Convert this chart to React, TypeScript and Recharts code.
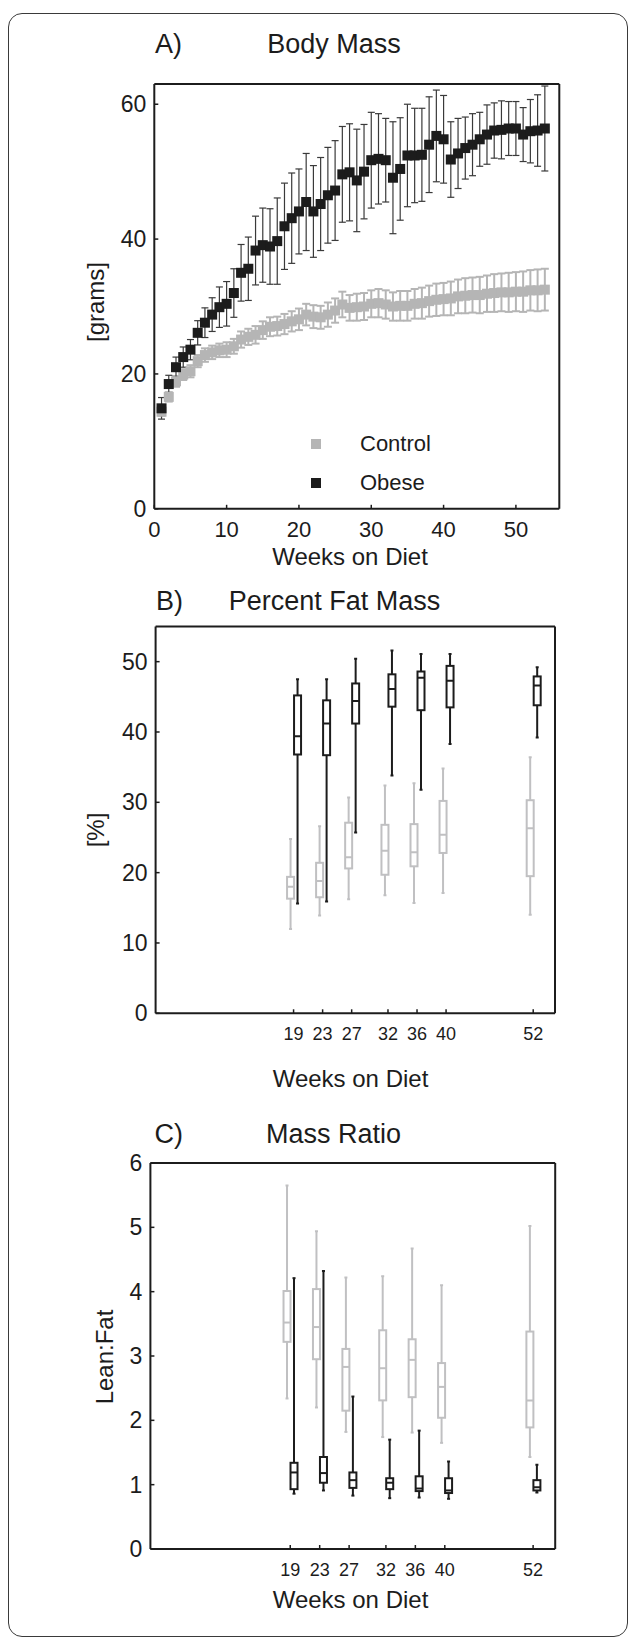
import React from "react";
import { ComposedChart, Scatter, ErrorBar, Bar, XAxis, YAxis, Legend } from "recharts";

const FONT = "'Liberation Sans', Arial, Helvetica, sans-serif";
const INK = "#1c1c1c";
const GREY = "#b5b5b5";
const BOX_GREY = "#c0c0c2";

// A) body mass, weekly mean and SD
const WEEKS = [
  1, 2, 3, 4, 5, 6, 7, 8, 9, 10, 11, 12, 13, 14, 15, 16, 17, 18, 19, 20, 21, 22, 23, 24, 25, 26, 27,
  28, 29, 30, 31, 32, 33, 34, 35, 36, 37, 38, 39, 40, 41, 42, 43, 44, 45, 46, 47, 48, 49, 50, 51, 52, 53, 54,
];
const CONTROL_MEAN = [
  14.4, 16.6, 18.9, 19.9, 20.4, 21.9, 22.8, 23.2, 23.5, 23.6, 24.1, 25.1, 25.5, 25.8, 26.5, 27.0, 27.1,
  27.4, 27.8, 28.1, 28.8, 28.5, 28.4, 28.8, 29.4, 30.3, 29.8, 29.9, 30.0, 30.4, 30.5, 30.3, 30.0, 30.1,
  30.1, 30.4, 30.5, 30.8, 31.0, 31.1, 31.2, 31.5, 31.6, 31.7, 31.7, 31.9, 32.0, 32.1, 32.1, 32.2, 32.2,
  32.4, 32.4, 32.5,
];
const CONTROL_SD = [
  0.6, 0.7, 0.8, 0.8, 0.9, 0.9, 1.0, 1.0, 1.0, 1.1, 1.1, 1.2, 1.2, 1.3, 1.3, 1.4, 1.4, 1.5, 1.5, 1.6,
  1.6, 1.7, 1.7, 1.8, 1.8, 1.9, 1.9, 2.0, 2.0, 2.0, 2.1, 2.1, 2.1, 2.2, 2.2, 2.2, 2.3, 2.3, 2.4, 2.4,
  2.5, 2.5, 2.6, 2.6, 2.7, 2.7, 2.8, 2.8, 2.9, 2.9, 3.0, 3.0, 3.1, 3.1,
];
const OBESE_MEAN = [
  14.9, 18.5, 21.0, 22.5, 23.6, 26.1, 27.6, 28.8, 29.9, 30.4, 32.0, 35.0, 35.6, 38.3, 39.1, 38.9, 39.7,
  41.9, 43.1, 44.1, 45.5, 44.1, 45.2, 46.5, 47.2, 49.6, 49.9, 48.7, 50.0, 51.7, 51.9, 51.7, 49.1, 50.4,
  52.4, 52.4, 52.5, 54.0, 55.3, 54.8, 51.8, 52.7, 53.5, 54.0, 54.8, 55.5, 56.1, 56.2, 56.4, 56.4, 55.5,
  56.0, 56.1, 56.4,
];
const OBESE_SD = [
  1.6, 1.3, 1.5, 1.5, 1.5, 1.8, 2.2, 2.5, 3.0, 3.3, 3.6, 4.2, 4.7, 5.1, 5.5, 5.6, 6.4, 6.4, 6.7, 6.3,
  7.2, 6.8, 6.9, 7.1, 7.4, 7.1, 7.2, 7.6, 7.0, 7.1, 6.7, 6.2, 8.3, 7.6, 7.6, 7.0, 6.9, 7.1, 6.8, 6.5,
  5.6, 5.2, 4.6, 4.6, 4.0, 4.4, 4.1, 4.3, 4.0, 4.0, 4.0, 4.7, 5.3, 6.3,
];

// B) and C) box plots: [min, q1, median, q3, max]
const SCAN_WEEKS = [19, 23, 27, 32, 36, 40, 52];
const FAT_CONTROL = [
  [12.0, 16.3, 18.0, 19.4, 24.8],
  [13.9, 16.5, 18.8, 21.4, 26.6],
  [16.2, 20.6, 22.2, 27.1, 30.7],
  [16.8, 19.7, 23.1, 26.8, 32.4],
  [15.7, 20.9, 22.9, 26.9, 32.7],
  [17.1, 22.8, 25.4, 30.2, 34.8],
  [14.0, 19.5, 26.3, 30.3, 36.4],
];
const FAT_OBESE = [
  [15.6, 36.8, 39.4, 45.2, 47.5],
  [15.9, 36.7, 41.2, 44.5, 47.5],
  [25.7, 41.2, 44.4, 46.9, 50.4],
  [33.8, 43.6, 46.1, 48.2, 51.6],
  [31.8, 43.1, 47.7, 48.6, 51.1],
  [38.3, 43.5, 47.3, 49.4, 51.1],
  [39.2, 43.8, 46.6, 47.9, 49.2],
];
const RATIO_CONTROL = [
  [2.34, 3.22, 3.52, 4.01, 5.65],
  [2.2, 2.95, 3.45, 4.04, 4.94],
  [1.82, 2.15, 2.83, 3.11, 4.22],
  [1.74, 2.31, 2.81, 3.4, 4.24],
  [1.81, 2.36, 2.94, 3.26, 4.67],
  [1.65, 2.04, 2.52, 2.89, 4.1],
  [1.43, 1.89, 2.31, 3.38, 5.02],
];
const RATIO_OBESE = [
  [0.86, 0.93, 1.19, 1.34, 4.21],
  [0.91, 1.03, 1.18, 1.43, 4.32],
  [0.83, 0.95, 1.07, 1.19, 2.37],
  [0.79, 0.93, 1.03, 1.1, 1.7],
  [0.8, 0.9, 0.94, 1.13, 1.84],
  [0.78, 0.87, 0.91, 1.1, 1.36],
  [0.88, 0.91, 0.96, 1.07, 1.31],
];

const massData = WEEKS.map((w, i) => ({
  week: w,
  ctl: CONTROL_MEAN[i],
  ctlErr: CONTROL_SD[i],
  ob: OBESE_MEAN[i],
  obErr: OBESE_SD[i],
}));
const fatData = SCAN_WEEKS.map((w, i) => ({ week: w, c: FAT_CONTROL[i], o: FAT_OBESE[i] }));
const ratioData = SCAN_WEEKS.map((w, i) => ({ week: w, c: RATIO_CONTROL[i], o: RATIO_OBESE[i] }));

const axisLine = { stroke: INK, strokeWidth: 2 };
const tickLine = { stroke: INK, strokeWidth: 1.5 };

function Txt({ x, y, size, children, left = false, rotate = false }: any) {
  const tx = left ? "0" : "-50%";
  return (
    <div
      style={{
        position: "absolute",
        left: x,
        top: y,
        fontSize: size,
        lineHeight: 1,
        whiteSpace: "nowrap",
        color: INK,
        transform: `translate(${tx}, -50%)${rotate ? " rotate(-90deg)" : ""}`,
      }}
    >
      {children}
    </div>
  );
}

const square = (p: any) => (
  <rect x={p.cx - 5} y={p.cy - 5} width={10} height={10} fill={p.fill} />
);

const renderLegend = (props: any) => (
  <div style={{ position: "relative", width: 160, height: 70, fontFamily: FONT }}>
    {(props.payload || []).map((e: any, i: number) => (
      <div key={i} style={{ position: "absolute", left: 0, top: i * 39.2, width: 160, height: 40 }}>
        <div style={{ position: "absolute", left: 11, top: 15.5, width: 10, height: 10, background: e.color }} />
        <div style={{ position: "absolute", left: 60, top: 9.5, fontSize: 22, lineHeight: 1, whiteSpace: "nowrap", color: INK }}>
          {e.value}
        </div>
      </div>
    ))}
  </div>
);

// box + whiskers drawn inside a range bar that spans [min, max]
function boxShape(key: "c" | "o", color: string) {
  return (props: any) => {
    const { x, y, width, height, payload } = props;
    const s: number[] = payload[key];
    const top = Math.min(y, y + height);
    const bottom = Math.max(y, y + height);
    const at = (v: number) => bottom - ((v - s[0]) / (s[4] - s[0])) * (bottom - top);
    const cx = x + width / 2;
    const st = { stroke: color, strokeWidth: 2 };
    return (
      <g>
        <line x1={cx} x2={cx} y1={at(s[4])} y2={at(s[3])} {...st} />
        <line x1={cx} x2={cx} y1={at(s[1])} y2={at(s[0])} {...st} />
        <line x1={cx - 1.5} x2={cx + 1.5} y1={at(s[4])} y2={at(s[4])} {...st} />
        <line x1={cx - 1.5} x2={cx + 1.5} y1={at(s[0])} y2={at(s[0])} {...st} />
        <rect x={x} y={at(s[3])} width={width} height={at(s[1]) - at(s[3])} fill="none" {...st} />
        <line x1={x} x2={x + width} y1={at(s[2])} y2={at(s[2])} {...st} />
      </g>
    );
  };
}

function BoxPanel({ top, margin, data, yDomain, yTicks, tickMargin }: any) {
  return (
    <div style={{ position: "absolute", left: 0, top }}>
      <ComposedChart width={629} height={500} data={data} margin={margin} barSize={7} barGap={0}>
        <XAxis xAxisId="b" dataKey="week" type="number" domain={[0, 55]} ticks={SCAN_WEEKS} allowDataOverflow
          height={30} tickSize={-4} tickMargin={tickMargin} axisLine={axisLine} tickLine={tickLine}
          tick={{ fill: INK, fontSize: 18, fontFamily: FONT }} />
        <XAxis xAxisId="t" orientation="top" type="number" domain={[0, 55]} ticks={SCAN_WEEKS} allowDataOverflow
          height={10} tickSize={-4} axisLine={axisLine} tickLine={tickLine} tick={false} />
        <YAxis yAxisId="l" type="number" domain={yDomain} ticks={yTicks} allowDataOverflow width={60}
          tickSize={-4} tickMargin={12} axisLine={axisLine} tickLine={tickLine}
          tick={{ fill: INK, fontSize: 23, fontFamily: FONT }} />
        <YAxis yAxisId="r" orientation="right" type="number" domain={yDomain} ticks={yTicks} allowDataOverflow
          width={10} tickSize={-4} axisLine={axisLine} tickLine={tickLine} tick={false} />
        <Bar xAxisId="b" yAxisId="l" dataKey={(d: any) => [d.c[0], d.c[4]]} shape={boxShape("c", BOX_GREY)} isAnimationActive={false} />
        <Bar xAxisId="b" yAxisId="l" dataKey={(d: any) => [d.o[0], d.o[4]]} shape={boxShape("o", INK)} isAnimationActive={false} />
      </ComposedChart>
    </div>
  );
}

export default function App() {
  return (
    <div style={{ position: "absolute", left: 0, top: 0, width: 629, height: 1643, background: "#fff", fontFamily: FONT }}>
      <div style={{ position: "absolute", left: 8, top: 13, width: 620, height: 1624, boxSizing: "border-box", border: "1.5px solid #3a3a3a", borderRadius: 14 }} />

      {/* A) Body Mass */}
      <div style={{ position: "absolute", left: 0, top: 0 }}>
        <ComposedChart width={629} height={560} data={massData} margin={{ top: 74, right: 59.7, bottom: 21.2, left: 94.3 }}>
          <XAxis xAxisId="b" dataKey="week" type="number" domain={[0, 56]} ticks={[0, 10, 20, 30, 40, 50]} allowDataOverflow
            height={30} tickSize={-4} tickMargin={17} axisLine={axisLine} tickLine={tickLine}
            tick={{ fill: INK, fontSize: 22, fontFamily: FONT }} />
          <XAxis xAxisId="t" orientation="top" type="number" domain={[0, 56]} ticks={[0, 10, 20, 30, 40, 50]} allowDataOverflow
            height={10} tickSize={-4} axisLine={axisLine} tickLine={tickLine} tick={false} />
          <YAxis yAxisId="l" type="number" domain={[0, 63]} ticks={[0, 20, 40, 60]} allowDataOverflow width={60}
            tickSize={-4} tickMargin={12} axisLine={axisLine} tickLine={tickLine}
            tick={{ fill: INK, fontSize: 23, fontFamily: FONT }} />
          <YAxis yAxisId="r" orientation="right" type="number" domain={[0, 63]} ticks={[0, 20, 40, 60]} allowDataOverflow
            width={10} tickSize={-4} axisLine={axisLine} tickLine={tickLine} tick={false} />
          <Scatter name="Control" xAxisId="b" yAxisId="l" dataKey="ctl" fill={GREY} shape={square} isAnimationActive={false}>
            <ErrorBar dataKey="ctlErr" direction="y" width={4} stroke={GREY} strokeWidth={2} />
          </Scatter>
          <Scatter name="Obese" xAxisId="b" yAxisId="l" dataKey="ob" fill={INK} shape={square} isAnimationActive={false}>
            <ErrorBar dataKey="obErr" direction="y" width={3.5} stroke="#3a3a3a" strokeWidth={1.2} />
          </Scatter>
          <Legend layout="vertical" align="center" verticalAlign="middle" content={renderLegend}
            wrapperStyle={{ left: 300, top: 423, width: 160, height: 70 }} />
        </ComposedChart>
      </div>
      <Txt x={155} y={44} size={27} left>A)</Txt>
      <Txt x={334} y={44} size={27}>Body Mass</Txt>
      <Txt x={96} y={302} size={24} rotate>[grams]</Txt>
      <Txt x={350} y={557} size={24}>Weeks on Diet</Txt>

      {/* B) Percent Fat Mass */}
      <BoxPanel top={580} data={fatData} margin={{ top: 36.5, right: 64, bottom: 36.7, left: 95.6 }}
        yDomain={[0, 55]} yTicks={[0, 10, 20, 30, 40, 50]} tickMargin={18.3} />
      <Txt x={156} y={601} size={27} left>B)</Txt>
      <Txt x={334.5} y={601} size={27}>Percent Fat Mass</Txt>
      <Txt x={96} y={830} size={24} rotate>[%]</Txt>
      <Txt x={350.5} y={1079} size={24}>Weeks on Diet</Txt>

      {/* C) Mass Ratio */}
      <BoxPanel top={1100} data={ratioData} margin={{ top: 53, right: 63.8, bottom: 21, left: 90.4 }}
        yDomain={[0, 6]} yTicks={[0, 1, 2, 3, 4, 5, 6]} tickMargin={18.6} />
      <Txt x={154.5} y={1134} size={27} left>C)</Txt>
      <Txt x={333.5} y={1134} size={27}>Mass Ratio</Txt>
      <Txt x={105} y={1357} size={24} rotate>Lean:Fat</Txt>
      <Txt x={350.5} y={1600} size={24}>Weeks on Diet</Txt>
    </div>
  );
}
